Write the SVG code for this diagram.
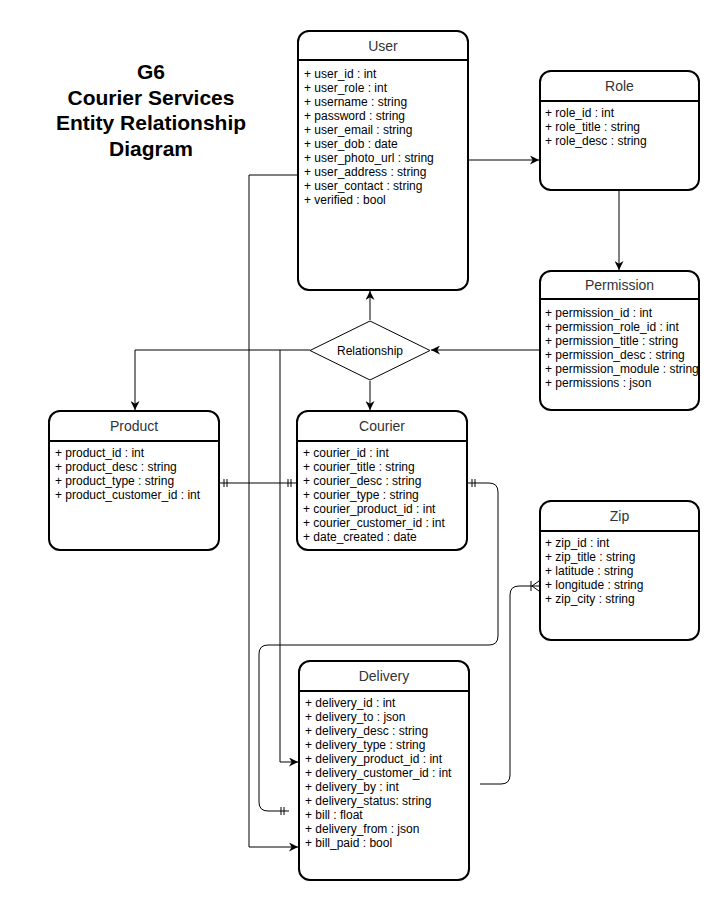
<svg xmlns="http://www.w3.org/2000/svg" width="724" height="902" viewBox="0 0 724 902">
<style>
.box{fill:#fff;stroke:#000;stroke-width:2}
.hdr{stroke:#000;stroke-width:2}
.ttl{font-family:"Liberation Sans",Arial,sans-serif;font-size:14px;fill:#333;text-anchor:middle}
.row{font-family:"Liberation Sans",Arial,sans-serif;font-size:12px;fill:#000}
.big{font-family:"Liberation Sans",Arial,sans-serif;font-size:21px;font-weight:bold;fill:#000;text-anchor:middle}
.ln{fill:none;stroke:#000;stroke-width:1}
.arr{marker-end:url(#arrow)}
</style>
<defs>
<marker id="arrow" viewBox="0 0 10 10" refX="10" refY="5" markerWidth="9" markerHeight="9" markerUnits="userSpaceOnUse" orient="auto">
<path d="M0,0 L10,5 L0,10 L3,5 z" fill="#000"/>
</marker>
</defs>
<rect width="724" height="902" fill="#fff"/>

<g id="title">
<text class="big" x="151" y="79">G6</text>
<text class="big" x="151" y="104.5">Courier Services</text>
<text class="big" x="151" y="130">Entity Relationship</text>
<text class="big" x="151" y="155.5">Diagram</text>
</g>

<g id="connectors">
<path class="ln arr" d="M468,160 H539"/>
<path class="ln arr" d="M619,190 V270"/>
<path class="ln arr" d="M539,350 H431"/>
<path class="ln arr" d="M370,320 V291"/>
<path class="ln arr" d="M370,381 V410"/>
<path class="ln arr" d="M310,350 H135 V410"/>
<path class="ln arr" d="M280,350 V762 H298"/>
<path class="ln arr" d="M297,175 H249 V847 H298"/>
<path class="ln" d="M220,483 H297"/>
<path class="ln" d="M224,479 V487 M227,479 V487 M288,479 V487 M291,479 V487"/>
<path class="ln" d="M468,483 H489 Q498,483 498,492 V636 Q498,645 489,645 H268 Q259,645 259,654 V802 Q259,811 268,811 H289"/>
<path class="ln" d="M472,479 V487 M475,479 V487 M281,807 V815 M284,807 V815"/>
<path class="ln" d="M480,784 H501 Q510,784 510,775 V595 Q510,586 519,586 H539"/>
<path class="ln" d="M531,581 V591 M532,586 L539,581 M532,586 L539,591"/>
</g>

<g id="user">
<rect class="box" x="298" y="31" width="170" height="259" rx="11"/>
<line class="hdr" x1="298" y1="60" x2="468" y2="60"/>
<text class="ttl" x="383" y="51">User</text>
<text class="row" x="304" y="78">+ user_id : int</text>
<text class="row" x="304" y="92">+ user_role : int</text>
<text class="row" x="304" y="106">+ username : string</text>
<text class="row" x="304" y="120">+ password : string</text>
<text class="row" x="304" y="134">+ user_email : string</text>
<text class="row" x="304" y="148">+ user_dob : date</text>
<text class="row" x="304" y="162">+ user_photo_url : string</text>
<text class="row" x="304" y="176">+ user_address : string</text>
<text class="row" x="304" y="190">+ user_contact : string</text>
<text class="row" x="304" y="204">+ verified : bool</text>
</g>

<g id="role">
<rect class="box" x="540" y="71" width="159" height="119" rx="11"/>
<line class="hdr" x1="540" y1="101" x2="699" y2="101"/>
<text class="ttl" x="619.5" y="91">Role</text>
<text class="row" x="545" y="117">+ role_id : int</text>
<text class="row" x="545" y="131">+ role_title : string</text>
<text class="row" x="545" y="145">+ role_desc : string</text>
</g>

<g id="permission">
<rect class="box" x="540" y="271" width="159" height="139" rx="11"/>
<line class="hdr" x1="540" y1="299" x2="699" y2="299"/>
<text class="ttl" x="619.5" y="290">Permission</text>
<text class="row" x="545" y="317">+ permission_id : int</text>
<text class="row" x="545" y="331">+ permission_role_id : int</text>
<text class="row" x="545" y="345">+ permission_title : string</text>
<text class="row" x="545" y="359">+ permission_desc : string</text>
<text class="row" x="545" y="373">+ permission_module : string</text>
<text class="row" x="545" y="387">+ permissions : json</text>
</g>

<g id="relationship">
<polygon points="370,321 430,350.5 370,380 310,350.5" fill="#fff" stroke="#000" stroke-width="1"/>
<text class="row" x="370" y="355" text-anchor="middle" fill="#333">Relationship</text>
</g>

<g id="product">
<rect class="box" x="49" y="411" width="170" height="139" rx="11"/>
<line class="hdr" x1="49" y1="441" x2="219" y2="441"/>
<text class="ttl" x="134" y="431">Product</text>
<text class="row" x="55" y="457">+ product_id : int</text>
<text class="row" x="55" y="471">+ product_desc : string</text>
<text class="row" x="55" y="485">+ product_type : string</text>
<text class="row" x="55" y="499">+ product_customer_id : int</text>
</g>

<g id="courier">
<rect class="box" x="297" y="411" width="170" height="139" rx="11"/>
<line class="hdr" x1="297" y1="441" x2="467" y2="441"/>
<text class="ttl" x="382" y="431">Courier</text>
<text class="row" x="303" y="457">+ courier_id : int</text>
<text class="row" x="303" y="471">+ courier_title : string</text>
<text class="row" x="303" y="485">+ courier_desc : string</text>
<text class="row" x="303" y="499">+ courier_type : string</text>
<text class="row" x="303" y="513">+ courier_product_id : int</text>
<text class="row" x="303" y="527">+ courier_customer_id : int</text>
<text class="row" x="303" y="541">+ date_created : date</text>
</g>

<g id="zip">
<rect class="box" x="540" y="501" width="159" height="139" rx="11"/>
<line class="hdr" x1="540" y1="531" x2="699" y2="531"/>
<text class="ttl" x="619.5" y="521">Zip</text>
<text class="row" x="545" y="547">+ zip_id : int</text>
<text class="row" x="545" y="561">+ zip_title : string</text>
<text class="row" x="545" y="575">+ latitude : string</text>
<text class="row" x="545" y="589">+ longitude : string</text>
<text class="row" x="545" y="603">+ zip_city : string</text>
</g>

<g id="delivery">
<rect class="box" x="299" y="661" width="170" height="219" rx="11"/>
<line class="hdr" x1="299" y1="691" x2="469" y2="691"/>
<text class="ttl" x="384" y="681">Delivery</text>
<text class="row" x="305" y="707">+ delivery_id : int</text>
<text class="row" x="305" y="721">+ delivery_to : json</text>
<text class="row" x="305" y="735">+ delivery_desc : string</text>
<text class="row" x="305" y="749">+ delivery_type : string</text>
<text class="row" x="305" y="763">+ delivery_product_id : int</text>
<text class="row" x="305" y="777">+ delivery_customer_id : int</text>
<text class="row" x="305" y="791">+ delivery_by : int</text>
<text class="row" x="305" y="805">+ delivery_status: string</text>
<text class="row" x="305" y="819">+ bill : float</text>
<text class="row" x="305" y="833">+ delivery_from : json</text>
<text class="row" x="305" y="847">+ bill_paid : bool</text>
</g>
</svg>
